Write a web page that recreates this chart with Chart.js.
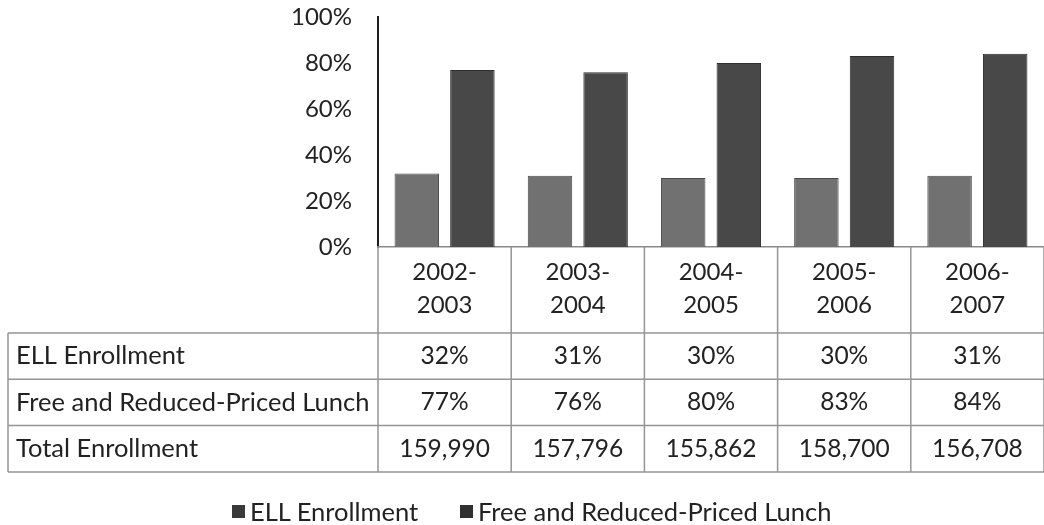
<!DOCTYPE html>
<html><head><meta charset="utf-8">
<script src="https://cdn.jsdelivr.net/npm/chart.js@4.4.1/dist/chart.umd.min.js"></script>
<style>
html,body{margin:0;padding:0;background:#fff;}
#wrap{position:relative;width:1044px;height:525px;overflow:hidden;background:#fff;}
#wrap canvas{position:absolute;left:0;top:0;}
.leg{position:absolute;top:497px;height:28px;display:flex;align-items:center;font:25.5px Lato, sans-serif;color:#222;white-space:nowrap;}
.leg i{display:inline-block;width:13px;height:13px;margin-right:5px;}
</style></head><body>
<div id="wrap"><canvas id="c" width="1044" height="525"></canvas><div id="legend"></div></div>
<script>
// ---- data ----
const categories = [['2002-','2003'],['2003-','2004'],['2004-','2005'],['2005-','2006'],['2006-','2007']];
const ellEnrollment = [32,31,30,30,31];
const freeReducedLunch = [77,76,80,83,84];
const totalEnrollment = [159990,157796,155862,158700,156708];
const yTicks = [0,20,40,60,80,100];
const seriesNames = ['ELL Enrollment','Free and Reduced-Priced Lunch'];
const rowNames = ['ELL Enrollment','Free and Reduced-Priced Lunch','Total Enrollment'];

// ---- styles ----
const FONT = 'Lato';
const TEXT = '#222';
const barColors = ['#717171','#484848'];
const barBorders = ['#4a4a4a','#2e2e2e'];
const legendColors = ['#3a3a3a','#303030'];
const LINE = '#959595';

const tableRows = [
  ellEnrollment.map(v => v + '%'),
  freeReducedLunch.map(v => v + '%'),
  totalEnrollment.map(v => v.toLocaleString('en-US'))
];

const tablePlugin = {
  id: 'dataTable',
  afterDraw(chart) {
    const {ctx, chartArea: a, scales: {x}} = chart;
    const n = categories.length;
    const colW = (a.right - a.left) / n;
    const headerBottom = a.bottom + 86;
    const rowH = 46.3;
    const tableLeft = 8;
    const tableBottom = headerBottom + rowH * rowNames.length;
    ctx.save();
    ctx.strokeStyle = LINE;
    ctx.lineWidth = 1.5;
    const line = (x1, y1, x2, y2) => { ctx.beginPath(); ctx.moveTo(x1, y1); ctx.lineTo(x2, y2); ctx.stroke(); };
    for (let i = 0; i <= n; i++) {
      const xx = (i < n ? x.getPixelForValue(i) - colW / 2 : x.getPixelForValue(n - 1) + colW / 2);
      line(xx, a.bottom, xx, tableBottom);
    }
    line(tableLeft, headerBottom, tableLeft, tableBottom);
    for (let r = 0; r <= rowNames.length; r++) {
      const yy = headerBottom + r * rowH;
      line(tableLeft, yy, chart.width, yy);
    }
    ctx.fillStyle = TEXT;
    ctx.textBaseline = 'middle';
    rowNames.forEach((name, r) => {
      const cy = headerBottom + r * rowH + rowH / 2;
      ctx.font = '25.5px ' + FONT;
      ctx.textAlign = 'left';
      ctx.fillText(name, tableLeft + 8, cy);
      ctx.font = '24.5px ' + FONT;
      ctx.textAlign = 'center';
      tableRows[r].forEach((val, i) => ctx.fillText(val, x.getPixelForValue(i), cy));
    });
    ctx.restore();
  }
};

function build() {
  Chart.defaults.font.family = FONT;
  Chart.defaults.color = TEXT;
  new Chart(document.getElementById('c'), {
    type: 'bar',
    data: {
      labels: categories,
      datasets: [
        {label: seriesNames[0], data: ellEnrollment, backgroundColor: barColors[0], borderColor: barBorders[0], borderWidth: 1},
        {label: seriesNames[1], data: freeReducedLunch, backgroundColor: barColors[1], borderColor: barBorders[1], borderWidth: 1}
      ]
    },
    options: {
      responsive: false,
      animation: false,
      devicePixelRatio: 1,
      datasets: {bar: {categoryPercentage: 0.835, barPercentage: 0.8}},
      layout: {padding: {top: 17, right: -7, bottom: 53, left: 0}},
      plugins: {legend: {display: false}, tooltip: {enabled: false}},
      scales: {
        y: {
          min: 0, max: 100,
          afterBuildTicks: s => { s.ticks = yTicks.map(v => ({value: v})); },
          afterFit: s => { s.width = 378; s.paddingTop = 0; s.paddingBottom = 0; },
          grid: {display: false, drawTicks: false},
          border: {display: true, color: '#1e1e1e', width: 2},
          ticks: {padding: 26, font: {size: 24}, color: TEXT, callback: v => v + '%'}
        },
        x: {
          afterFit: s => { s.height = 225; },
          grid: {display: false, drawTicks: false},
          border: {display: true, color: '#8a8a8a', width: 1.5},
          ticks: {padding: 9, maxRotation: 0, autoSkip: false, font: {size: 24, lineHeight: 1.375}, color: TEXT}
        }
      }
    },
    plugins: [tablePlugin]
  });
  const lg = document.getElementById('legend');
  const lefts = [232, 460];
  seriesNames.forEach((name, i) => {
    const d = document.createElement('div');
    d.className = 'leg';
    d.style.left = lefts[i] + 'px';
    const sw = document.createElement('i');
    sw.style.background = legendColors[i];
    d.appendChild(sw);
    d.appendChild(document.createTextNode(name));
    lg.appendChild(d);
  });
}
if (document.fonts && document.fonts.load) {
  document.fonts.load('24px ' + FONT).then(build, build);
} else build();
</script>
</body></html>
